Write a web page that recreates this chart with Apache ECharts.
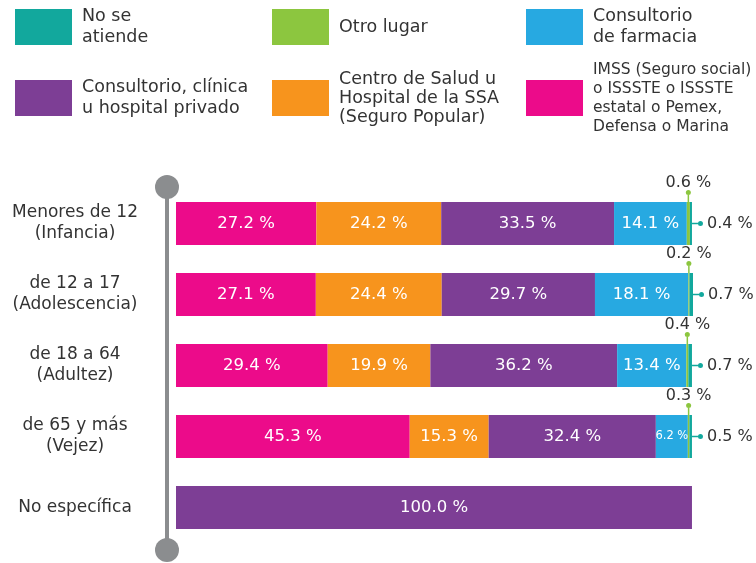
<!DOCTYPE html>
<html>
<head>
<meta charset="utf-8">
<script src="https://cdn.jsdelivr.net/npm/echarts@6/dist/echarts.min.js"></script>
<style>html,body{margin:0;padding:0;background:#fff}#c{width:756px;height:563px}</style>
</head>
<body>
<div id="c"></div>
<script>
const categories = ['Menores de 12\n(Infancia)', 'de 12 a 17\n(Adolescencia)', 'de 18 a 64\n(Adultez)', 'de 65 y más\n(Vejez)', 'No específica'];
const imss = [27.2, 27.1, 29.4, 45.3, null];
const centroSalud = [24.2, 24.4, 19.9, 15.3, null];
const privado = [33.5, 29.7, 36.2, 32.4, 100.0];
const farmacia = [14.1, 18.1, 13.4, 6.2, null];
const otroLugar = [0.6, 0.2, 0.4, 0.3, null];
const noSeAtiende = [0.4, 0.7, 0.7, 0.5, null];

const names = {
  imss: 'IMSS (Seguro social) o ISSSTE o ISSSTE estatal o Pemex, Defensa o Marina',
  centro: 'Centro de Salud u Hospital de la SSA (Seguro Popular)',
  privado: 'Consultorio, clínica u hospital privado',
  farmacia: 'Consultorio de farmacia',
  otro: 'Otro lugar',
  noat: 'No se atiende'
};
const legendText = {};
legendText[names.noat] = 'No se\natiende';
legendText[names.otro] = 'Otro lugar';
legendText[names.farmacia] = 'Consultorio\nde farmacia';
legendText[names.privado] = 'Consultorio, clínica\nu hospital privado';
legendText[names.centro] = 'Centro de Salud u\nHospital de la SSA\n(Seguro Popular)';
legendText[names.imss] = 'IMSS (Seguro social)\no ISSSTE o ISSSTE\nestatal o Pemex,\nDefensa o Marina';

const colors = {
  imss: '#ec0b8a', centro: '#f7941d', privado: '#7d3e95',
  farmacia: '#27a9e1', otro: '#8cc63f', noat: '#12a89d'
};
const FONT = 'DejaVu Sans';
const TXT = '#333333';
const fmt = v => v.toFixed(1) + ' %';

function innerSeries(key, data) {
  return {
    name: names[key], type: 'bar', stack: 'total', data: data,
    barWidth: 43, itemStyle: { color: colors[key] },
    label: {
      show: true, position: 'inside', color: '#fff', fontFamily: FONT, fontSize: 16.5,
      formatter: p => p.value < 10 ? '{s|' + fmt(p.value) + '}' : fmt(p.value),
      rich: { s: { fontSize: 11.5, color: '#fff', fontFamily: FONT } }
    }
  };
}

function legendItem(key, left, top, opts) {
  return Object.assign({
    data: [names[key]], left: left, top: top, padding: 0,
    itemWidth: 57, itemHeight: 36, icon: 'rect', selectedMode: false,
    formatter: n => legendText[n],
    textStyle: { color: TXT, fontFamily: FONT, fontSize: 17.5, lineHeight: 21, padding: [0, 0, 0, 5] }
  }, opts || {});
}

const option = {
  animation: false,
  legend: [
    legendItem('noat', 15, 6),
    legendItem('otro', 272, 9),
    legendItem('farmacia', 526, 6),
    legendItem('privado', 15, 77),
    legendItem('centro', 272, 59.5, { textStyle: { color: TXT, fontFamily: FONT, fontSize: 17.5, lineHeight: 19, padding: [20, 0, 0, 5] } }),
    legendItem('imss', 526, 40, { textStyle: { color: TXT, fontFamily: FONT, fontSize: 15.5, lineHeight: 19, padding: [40, 0, 0, 5] } })
  ],
  grid: [
    { left: 176, right: 63, top: 188, bottom: 20 },
    { left: 167, width: 1, top: 187, bottom: 13 }
  ],
  xAxis: [
    { type: 'value', min: 0, max: 100.2, show: false, gridIndex: 0 },
    { type: 'value', show: false, gridIndex: 1 }
  ],
  yAxis: [
    {
      type: 'category', data: categories, inverse: true, gridIndex: 0,
      axisLine: { show: false }, axisTick: { show: false },
      axisLabel: { color: TXT, fontFamily: FONT, fontSize: 17, lineHeight: 21, align: 'center', margin: 101 }
    },
    {
      type: 'value', gridIndex: 1, position: 'left',
      axisLine: { show: true, symbol: ['circle', 'circle'], symbolSize: [24, 24], lineStyle: { color: '#8b8d8f', width: 4 } },
      axisTick: { show: false }, axisLabel: { show: false }, splitLine: { show: false }
    }
  ],
  series: [
    innerSeries('imss', imss),
    innerSeries('centro', centroSalud),
    innerSeries('privado', privado),
    innerSeries('farmacia', farmacia),
    {
      name: names.otro, type: 'bar', stack: 'total', data: otroLugar, barWidth: 43,
      itemStyle: { color: colors.otro },
      label: {
        show: true, position: 'top', distance: 0,
        formatter: p => '{t|' + fmt(p.value) + '}\n{d|}\n{l|}',
        rich: {
          t: { fontSize: 16, color: TXT, fontFamily: FONT, lineHeight: 15 },
          d: { width: 5, height: 5, borderRadius: 2.5, backgroundColor: colors.otro, lineHeight: 5 },
          l: { width: 1.5, height: 7, backgroundColor: colors.otro, lineHeight: 7 }
        }
      }
    },
    {
      name: names.noat, type: 'bar', stack: 'total', data: noSeAtiende, barWidth: 43,
      itemStyle: { color: colors.noat },
      label: {
        show: true, position: 'right', distance: 0,
        formatter: p => '{l|}{d|}{t|' + fmt(p.value) + '}',
        rich: {
          l: { width: 6, height: 1.5, backgroundColor: colors.noat },
          d: { width: 5, height: 5, borderRadius: 2.5, backgroundColor: colors.noat },
          t: { fontSize: 16, color: TXT, fontFamily: FONT, padding: [0, 0, 0, 4] }
        }
      }
    }
  ]
};
const chart = echarts.init(document.getElementById('c'), null, { renderer: 'canvas' });
chart.setOption(option);
</script>
</body>
</html>
